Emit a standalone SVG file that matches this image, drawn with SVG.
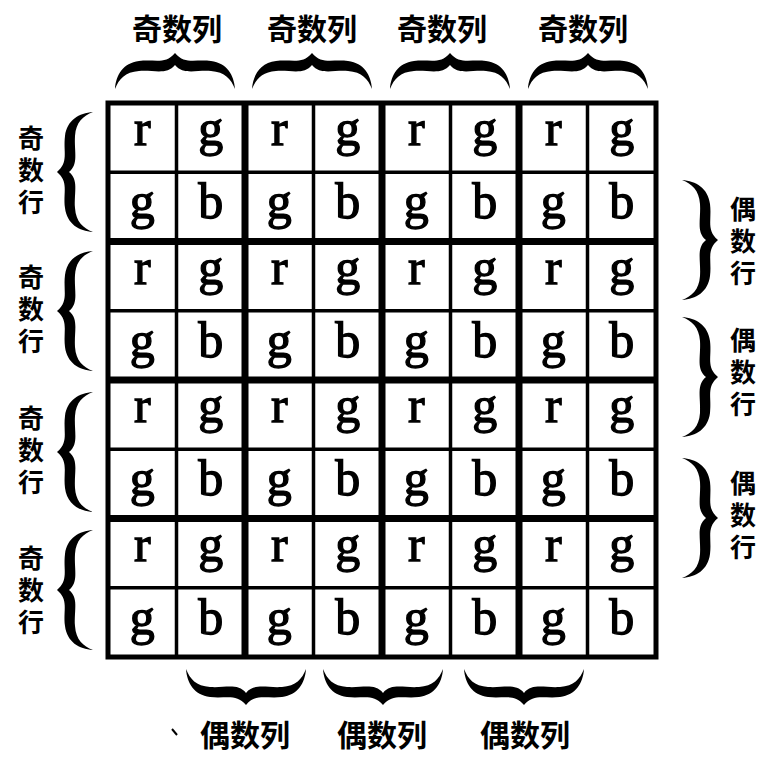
<svg xmlns="http://www.w3.org/2000/svg" width="764" height="764" viewBox="0 0 764 764">
<style>
.lt{font-family:"Liberation Serif","Times New Roman",serif;font-size:50px;fill:#000;stroke:#000;stroke-width:1.3;text-anchor:middle}
.cj{font-family:"Noto Sans CJK SC","Noto Sans CJK JP",sans-serif;font-weight:700;fill:#000;text-anchor:middle}
.h{font-size:30px}
.v{font-size:26px;writing-mode:vertical-rl;letter-spacing:6px}
.thin{stroke:#000;stroke-width:3.5;fill:none}
.thick{stroke:#000;stroke-width:7;fill:none}
</style>
<defs>
<path id="brace" d="M0,36 C1,22 8,10 24,8 C40,6 50,12 60,0 C70,12 80,6 96,8 C112,10 119,22 120,36 C116,26 110,19 96,18 C80,17 68,22 60,12 C52,22 40,17 24,18 C10,19 4,26 0,36 Z" fill="#000"/>
</defs>
<rect width="764" height="764" fill="#fff"/>

<g id="grid">
<rect x="108" y="103" width="548" height="554" fill="#fff" stroke="#000" stroke-width="5"/>
<g class="thin">
<line x1="176.5" y1="103" x2="176.5" y2="657"/>
<line x1="313.5" y1="103" x2="313.5" y2="657"/>
<line x1="450.5" y1="103" x2="450.5" y2="657"/>
<line x1="587.5" y1="103" x2="587.5" y2="657"/>
<line x1="108" y1="172.25" x2="656" y2="172.25"/>
<line x1="108" y1="310.75" x2="656" y2="310.75"/>
<line x1="108" y1="449.25" x2="656" y2="449.25"/>
<line x1="108" y1="587.75" x2="656" y2="587.75"/>
</g>
<g class="thick">
<line x1="245" y1="103" x2="245" y2="657"/>
<line x1="382" y1="103" x2="382" y2="657"/>
<line x1="519" y1="103" x2="519" y2="657"/>
<line x1="108" y1="241.5" x2="656" y2="241.5"/>
<line x1="108" y1="380" x2="656" y2="380"/>
<line x1="108" y1="518.5" x2="656" y2="518.5"/>
</g>
</g>

<g id="cells">
<g id="row1"><text class="lt" x="142.25" y="145">r</text><text class="lt" x="210.75" y="145">g</text><text class="lt" x="279.25" y="145">r</text><text class="lt" x="347.75" y="145">g</text><text class="lt" x="416.25" y="145">r</text><text class="lt" x="484.75" y="145">g</text><text class="lt" x="553.25" y="145">r</text><text class="lt" x="621.75" y="145">g</text></g>
<g id="row2"><text class="lt" x="142.25" y="218">g</text><text class="lt" x="210.75" y="218">b</text><text class="lt" x="279.25" y="218">g</text><text class="lt" x="347.75" y="218">b</text><text class="lt" x="416.25" y="218">g</text><text class="lt" x="484.75" y="218">b</text><text class="lt" x="553.25" y="218">g</text><text class="lt" x="621.75" y="218">b</text></g>
<g id="row3"><text class="lt" x="142.25" y="283.5">r</text><text class="lt" x="210.75" y="283.5">g</text><text class="lt" x="279.25" y="283.5">r</text><text class="lt" x="347.75" y="283.5">g</text><text class="lt" x="416.25" y="283.5">r</text><text class="lt" x="484.75" y="283.5">g</text><text class="lt" x="553.25" y="283.5">r</text><text class="lt" x="621.75" y="283.5">g</text></g>
<g id="row4"><text class="lt" x="142.25" y="356.5">g</text><text class="lt" x="210.75" y="356.5">b</text><text class="lt" x="279.25" y="356.5">g</text><text class="lt" x="347.75" y="356.5">b</text><text class="lt" x="416.25" y="356.5">g</text><text class="lt" x="484.75" y="356.5">b</text><text class="lt" x="553.25" y="356.5">g</text><text class="lt" x="621.75" y="356.5">b</text></g>
<g id="row5"><text class="lt" x="142.25" y="422">r</text><text class="lt" x="210.75" y="422">g</text><text class="lt" x="279.25" y="422">r</text><text class="lt" x="347.75" y="422">g</text><text class="lt" x="416.25" y="422">r</text><text class="lt" x="484.75" y="422">g</text><text class="lt" x="553.25" y="422">r</text><text class="lt" x="621.75" y="422">g</text></g>
<g id="row6"><text class="lt" x="142.25" y="495">g</text><text class="lt" x="210.75" y="495">b</text><text class="lt" x="279.25" y="495">g</text><text class="lt" x="347.75" y="495">b</text><text class="lt" x="416.25" y="495">g</text><text class="lt" x="484.75" y="495">b</text><text class="lt" x="553.25" y="495">g</text><text class="lt" x="621.75" y="495">b</text></g>
<g id="row7"><text class="lt" x="142.25" y="560.5">r</text><text class="lt" x="210.75" y="560.5">g</text><text class="lt" x="279.25" y="560.5">r</text><text class="lt" x="347.75" y="560.5">g</text><text class="lt" x="416.25" y="560.5">r</text><text class="lt" x="484.75" y="560.5">g</text><text class="lt" x="553.25" y="560.5">r</text><text class="lt" x="621.75" y="560.5">g</text></g>
<g id="row8"><text class="lt" x="142.25" y="633.5">g</text><text class="lt" x="210.75" y="633.5">b</text><text class="lt" x="279.25" y="633.5">g</text><text class="lt" x="347.75" y="633.5">b</text><text class="lt" x="416.25" y="633.5">g</text><text class="lt" x="484.75" y="633.5">b</text><text class="lt" x="553.25" y="633.5">g</text><text class="lt" x="621.75" y="633.5">b</text></g>
</g>

<g id="braces">
<use href="#brace" transform="translate(115,53)"/>
<use href="#brace" transform="translate(252,53)"/>
<use href="#brace" transform="translate(390,53)"/>
<use href="#brace" transform="translate(528,53)"/>
<use href="#brace" transform="translate(186,705) scale(1,-1)"/>
<use href="#brace" transform="translate(323,705) scale(1,-1)"/>
<use href="#brace" transform="translate(464,705) scale(1,-1)"/>
<use href="#brace" transform="matrix(0,1,1,0,57,112)"/>
<use href="#brace" transform="matrix(0,1,1,0,57,251)"/>
<use href="#brace" transform="matrix(0,1,1,0,57,392)"/>
<use href="#brace" transform="matrix(0,1,1,0,57,530)"/>
<use href="#brace" transform="matrix(0,1,-1,0,718,180)"/>
<use href="#brace" transform="matrix(0,1,-1,0,718,317)"/>
<use href="#brace" transform="matrix(0,1,-1,0,718,458)"/>
</g>

<g id="top-labels">
<text class="cj h" x="177" y="40">奇数列</text>
<text class="cj h" x="312" y="40">奇数列</text>
<text class="cj h" x="442" y="40">奇数列</text>
<text class="cj h" x="583" y="40">奇数列</text>
</g>
<g id="bottom-labels">
<text class="cj h" x="245" y="746">偶数列</text>
<text class="cj h" x="382" y="746">偶数列</text>
<text class="cj h" x="525" y="746">偶数列</text>
<path d="M172,729 L177,735" stroke="#000" stroke-width="2"/>
</g>
<g id="left-labels">
<text id="odd-row-1" class="cj v" x="31" y="173">奇数行</text>
<text id="odd-row-2" class="cj v" x="31" y="312">奇数行</text>
<text id="odd-row-3" class="cj v" x="31" y="453">奇数行</text>
<text id="odd-row-4" class="cj v" x="31" y="593">奇数行</text>
</g>
<g id="right-labels">
<text id="even-row-1" class="cj v" x="743" y="244">偶数行</text>
<text id="even-row-2" class="cj v" x="743" y="375">偶数行</text>
<text id="even-row-3" class="cj v" x="743" y="518">偶数行</text>
</g>
</svg>
